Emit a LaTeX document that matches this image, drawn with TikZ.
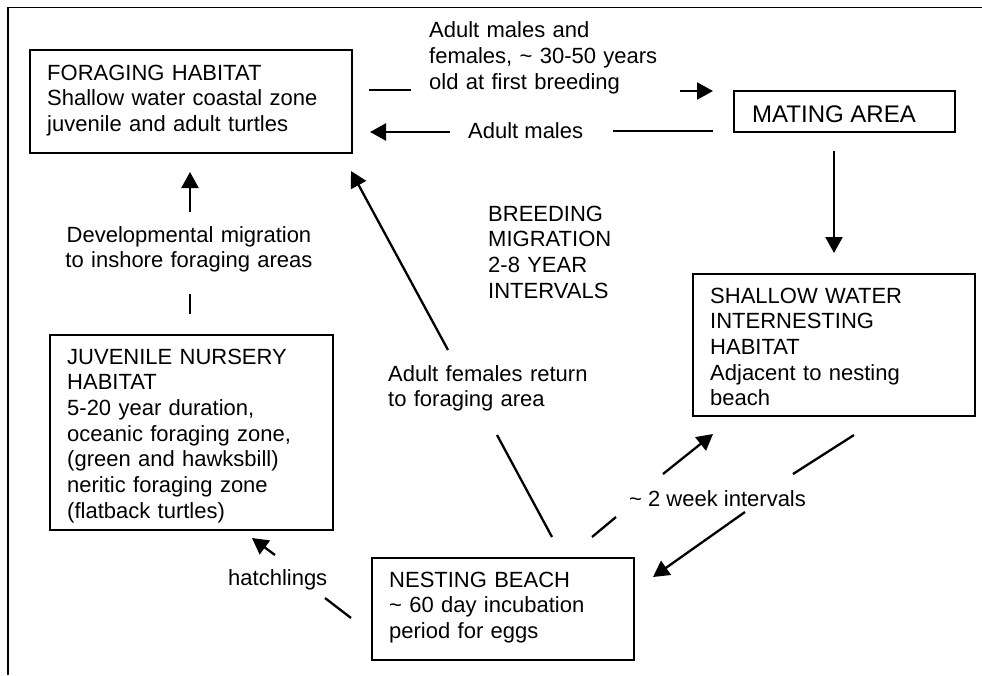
\documentclass[tikz,border=0pt]{standalone}
\usepackage{fontspec}
\setmainfont{Liberation Sans}
\usetikzlibrary{arrows.meta}
\begin{document}
\begin{tikzpicture}[x=1pt,y=-1pt,
  box/.style={draw, line width=1.8pt, inner sep=0pt, anchor=north west},
  txt/.style={inner sep=0pt, anchor=base west, align=left, text width=#1,
    font=\fontsize{22}{25.7}\selectfont},
  lbl/.style={inner sep=0pt, anchor=base west, font=\fontsize{22}{25.7}\selectfont},
  conn/.style={line width=2.3pt},
  arr/.style={line width=2.3pt, -{Triangle[width=17pt,length=16pt]}},
  frame/.style={line width=1.8pt}]
\useasboundingbox[fill=white] (0,0) rectangle (982,675);

% outer frame (left and top edges)
\coordinate (fbl) at (8,675);
\coordinate (ftl) at (8,7.5);
\coordinate (ftr) at (982,7.5);
\draw[frame] (fbl) -- (ftl) -- (ftr);

% boxes
\node[box, minimum width=322pt, minimum height=103pt] (forag) at (29,49) {};
\node[box, minimum width=221pt, minimum height=41pt] (mating) at (733,90) {};
\node[box, minimum width=282pt, minimum height=142pt] (shallow) at (692,273) {};
\node[box, minimum width=283pt, minimum height=195pt] (juv) at (49,334) {};
\node[box, minimum width=262pt, minimum height=102pt] (nest) at (371,557) {};

% box texts
\node[txt=300pt] (foragT) at (47,80) {FORAGING HABITAT\\Shallow water coastal zone\\juvenile and adult turtles};
\node[lbl, font=\fontsize{24}{28}\selectfont] (matingT) at (752,122) {MATING AREA};
\node[txt=260pt] (shallowT) at (710,303) {SHALLOW WATER\\INTERNESTING\\HABITAT\\Adjacent to nesting\\beach};
\node[txt=262pt] (juvT) at (67,364) {JUVENILE NURSERY\\HABITAT\\5-20 year duration,\\oceanic foraging zone,\\(green and hawksbill)\\neritic foraging zone\\(flatback turtles)};
\node[txt=240pt] (nestT) at (389,587) {NESTING BEACH\\\textasciitilde\ 60 day incubation\\period for eggs};

% free labels
\node[txt=240pt, font=\fontsize{22}{26}\selectfont] (topT) at (429,37.5) {Adult males and\\females, \textasciitilde\ 30-50 years\\old at first breeding};
\node[lbl] (malesT) at (468,138) {Adult males};
\node[txt=160pt] (breedT) at (488,221) {BREEDING\\MIGRATION\\2-8 YEAR\\INTERVALS};
\node[txt=270pt, align=center, anchor=base] (devT) at (189,242) {Developmental migration\\to inshore foraging areas};
\node[txt=220pt] (femT) at (388,381) {Adult females return\\to foraging area};
\node[lbl] (weekT) at (629,506) {\textasciitilde\ 2 week intervals};
\node[lbl] (hatchT) at (228,585) {hatchlings};

% connector points
\coordinate (a1) at (369,90);  \coordinate (a2) at (411,90);
\coordinate (a3) at (680,91);  \coordinate (a4) at (713,91);
\coordinate (b1) at (713,131); \coordinate (b2) at (613,131);
\coordinate (b3) at (450,132); \coordinate (b4) at (370,132);
\coordinate (c1) at (834,151); \coordinate (c2) at (834,253);
\coordinate (d1) at (190,314); \coordinate (d2) at (190,294);
\coordinate (d3) at (190,212); \coordinate (d4) at (190,172);
\coordinate (e1) at (552,537); \coordinate (e2) at (497,435);
\coordinate (e3) at (448,350); \coordinate (e4) at (351,171);
\coordinate (f1) at (592,537); \coordinate (f2) at (616,517);
\coordinate (f3) at (663,474); \coordinate (f4) at (713,434);
\coordinate (g1) at (854,435); \coordinate (g2) at (793,474);
\coordinate (g3) at (745,512); \coordinate (g4) at (653,577);
\coordinate (h1) at (351,618); \coordinate (h2) at (325,598);
\coordinate (h3) at (275,555); \coordinate (h4) at (252,538);

% foraging -> mating
\draw[conn] (a1) -- (a2);
\draw[arr] (a3) -- (a4);
% mating -> foraging (adult males)
\draw[conn] (b1) -- (b2);
\draw[arr] (b3) -- (b4);
% mating -> shallow
\draw[arr] (c1) -- (c2);
% juvenile -> foraging
\draw[conn] (d1) -- (d2);
\draw[arr] (d3) -- (d4);
% nesting -> foraging (adult females)
\draw[conn] (e1) -- (e2);
\draw[arr] (e3) -- (e4);
% nesting -> shallow
\draw[conn] (f1) -- (f2);
\draw[arr] (f3) -- (f4);
% shallow -> nesting
\draw[conn] (g1) -- (g2);
\draw[arr] (g3) -- (g4);
% nesting -> juvenile (hatchlings)
\draw[conn] (h1) -- (h2);
\draw[arr] (h3) -- (h4);
\end{tikzpicture}
\end{document}
